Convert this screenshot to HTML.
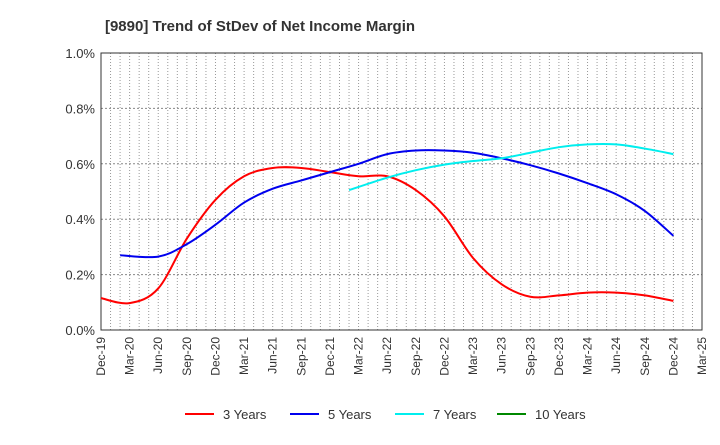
<!DOCTYPE html>
<html><head><meta charset="utf-8"><style>
body{margin:0;background:#fff;font-family:"Liberation Sans",sans-serif}
svg text{font-family:"Liberation Sans",sans-serif}
</style></head><body>
<svg width="720" height="440">
<text x="260" y="31" text-anchor="middle" font-size="15" font-weight="bold" fill="#333">[9890]  Trend of StDev of Net Income Margin</text>
<g id="grid"></g><g id="axes"></g><g id="series"></g><g id="legend"></g>
</svg>
<script>
const xLabels=["Dec-19","Mar-20","Jun-20","Sep-20","Dec-20","Mar-21","Jun-21","Sep-21","Dec-21","Mar-22","Jun-22","Sep-22","Dec-22","Mar-23","Jun-23","Sep-23","Dec-23","Mar-24","Jun-24","Sep-24","Dec-24","Mar-25"];
const yTicks=[0,0.2,0.4,0.6,0.8,1.0];
const s3=[0.115,0.097,0.15,0.33,0.47,0.555,0.585,0.585,0.57,0.555,0.555,0.505,0.41,0.26,0.165,0.12,0.125,0.135,0.135,0.125,0.105];
const s3x=[0,1,2,3,4,5,6,7,8,9,10,11,12,13,14,15,16,17,18,19,20];
const s5=[0.27,0.265,0.31,0.38,0.46,0.51,0.54,0.57,0.60,0.635,0.648,0.648,0.64,0.62,0.595,0.565,0.53,0.49,0.43,0.34];
const s5x=[0.67,2,3,4,5,6,7,8,9,10,11,12,13,14,15,16,17,18,19,20];
const s7=[0.505,0.55,0.577,0.597,0.61,0.62,0.64,0.66,0.67,0.67,0.655,0.635];
const s7x=[8.67,10,11,12,13,14,15,16,17,18,19,20];
const s10=[];
const s10x=[];
const L=101,R=702,T=53,B=330;
const NS="http://www.w3.org/2000/svg";
const X=i=>L+(R-L)*i/(xLabels.length-1);
const Y=v=>B-(B-T)*v/1.0;
function mk(t,a,p){const e=document.createElementNS(NS,t);for(const k in a)e.setAttribute(k,a[k]);p.appendChild(e);return e;}
const g=document.getElementById('grid'),ax=document.getElementById('axes'),sg=document.getElementById('series'),lg=document.getElementById('legend');
for(let m=1;m<(xLabels.length-1)*3;m++){const x=L+(R-L)*m/((xLabels.length-1)*3);
const e=mk('line',{x1:x,x2:x,y1:T,y2:B,stroke:'#999','stroke-dasharray':'1,2','stroke-width':1},g);

}
yTicks.forEach(v=>{if(v>0&&v<1){const e=mk('line',{x1:L,x2:R,y1:Y(v),y2:Y(v),stroke:'#888','stroke-dasharray':'2,2'},g);

}
const t=mk('text',{x:L-6,y:Y(v)+5,'text-anchor':'end','font-size':13,fill:'#333'},ax);t.textContent=v.toFixed(1)+'%';

});
const fr=mk('rect',{x:L,y:T,width:R-L,height:B-T,fill:'none',stroke:'#333','stroke-width':1},ax);


xLabels.forEach((l,i)=>{const x=X(i);const t=mk('text',{x:0,y:0,'text-anchor':'end','font-size':12,fill:'#333',transform:`translate(${x+4},${B+7}) rotate(-90)`},ax);t.textContent=l;

});
function path(arr,xs){const p=arr.map((v,i)=>[X(xs[i]),Y(v)]);if(p.length<2)return '';let d=`M${p[0][0]},${p[0][1]}`;
for(let i=0;i<p.length-1;i++){const p0=p[i-1]||p[i],p1=p[i],p2=p[i+1],p3=p[i+2]||p2;
d+=` C${p1[0]+(p2[0]-p0[0])/6},${p1[1]+(p2[1]-p0[1])/6} ${p2[0]-(p3[0]-p1[0])/6},${p2[1]-(p3[1]-p1[1])/6} ${p2[0]},${p2[1]}`;}return d;}
[[s3,s3x,'#ff0000','series-3-years'],[s5,s5x,'#0000ee','series-5-years'],[s7,s7x,'#00eeee','series-7-years'],[s10,s10x,'#008800','series-10-years']].forEach(([a,xs,c,n])=>{
if(a.length<2)return;const e=mk('path',{d:path(a,xs),fill:'none',stroke:c,'stroke-width':2},sg);

});
[['3 Years','#ff0000',185],['5 Years','#0000ee',290],['7 Years','#00eeee',395],['10 Years','#008800',497]].forEach(([t,c,x])=>{
const ln=mk('line',{x1:x,x2:x+29,y1:414,y2:414,stroke:c,'stroke-width':2},lg);


const tx=mk('text',{x:x+38,y:419,'font-size':13,fill:'#333'},lg);tx.textContent=t;

});
</script>
</body></html>
